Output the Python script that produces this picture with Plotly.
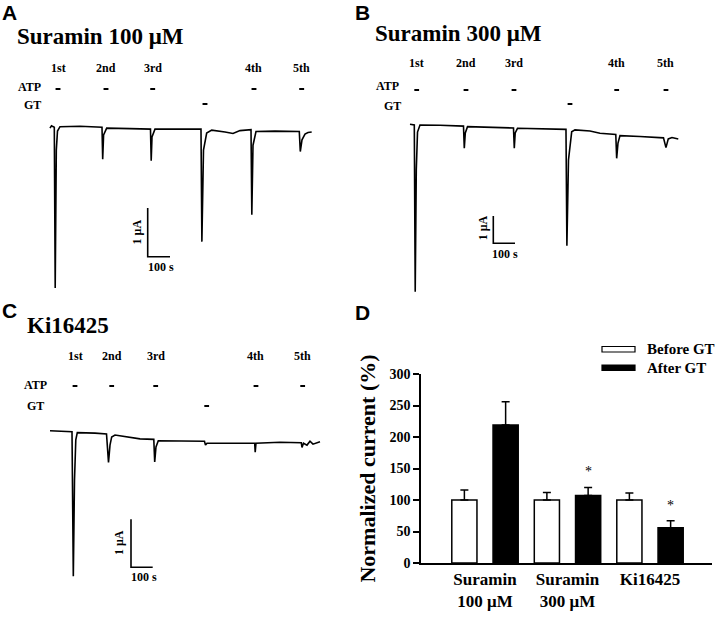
import plotly.graph_objects as go

W, H = 718, 617
SERIF = "Liberation Serif, Times New Roman, serif"
SANS = "Liberation Sans, Arial, sans-serif"

# ---------------- data ----------------
# Panel A (Suramin 100 uM): time (s), current (uA)
A_T = [0, 6.7, 19.3, 23.3, 28.3, 33.6, 44.8, 134.5, 233.2, 236.3, 240.3, 254.2, 358.7,
       450.6, 453.8, 457.4, 470.8, 582.9, 677.1, 681.1, 688.3, 702.6, 725.1, 784.7, 820.6,
       852.0, 901.4, 905.0, 910.3, 923.7, 1008.9, 1117.9, 1122.4, 1130.0, 1143.5, 1157.0, 1173.5]
A_I = [-0.03, 0.02, -0.01, -3.31, -0.48, -0.09, 0.0, 0.01, -0.01, -0.67, -0.17, -0.03, -0.04,
       -0.05, -0.70, -0.21, -0.05, -0.05, -0.05, -2.36, -0.48, -0.13, -0.07, -0.11, -0.14,
       -0.08, -0.06, -1.81, -0.38, -0.10, -0.09, -0.10, -0.51, -0.27, -0.15, -0.12, -0.11]
A_ATP = [35.9, 251.1, 460.5, 914.7, 1128.6]
A_GT = [695.0]

# Panel B (Suramin 300 uM)
B_T = [0, 19.8, 24.0, 29.0, 34.6, 46.1, 138.2, 246.5, 250.2, 254.8, 265.0, 368.6, 476.9,
       480.6, 484.8, 495.4, 599.0, 718.8, 723.0, 730.3, 745.1, 760.3, 829.4, 875.5, 948.3,
       952.4, 958.5, 967.7, 1059.8, 1168.1, 1179.6, 1190.2, 1207.3, 1236.3]
B_I = [0.03, 0.0, -6.11, -1.65, -0.26, 0.0, -0.01, -0.04, -0.85, -0.29, -0.06, -0.09, -0.11,
       -0.85, -0.29, -0.12, -0.14, -0.16, -4.42, -1.28, -0.25, -0.18, -0.22, -0.30, -0.35,
       -1.22, -0.66, -0.39, -0.42, -0.47, -0.83, -0.51, -0.46, -0.51]
B_ATP = [30.9, 258.0, 479.2, 952.5, 1179.6]
B_GT = [737.3]

# Panel C (Ki16425)
C_T = [0, 46.1, 101.4, 107.4, 112.9, 118.9, 125.8, 207.4, 260.4, 269.6, 276.5, 284.3, 299.5,
       414.7, 478.3, 482.5, 488.4, 499.0, 599.0, 711.9, 716.5, 723.5, 829.4, 943.3, 945.6,
       949.2, 1059.8, 1158.0, 1161.2, 1168.1, 1184.3, 1198.1, 1211.9, 1244.2]
C_I = [0.0, -0.01, -0.02, -3.03, -1.03, -0.19, -0.04, -0.05, -0.07, -0.66, -0.30, -0.13, -0.09,
       -0.17, -0.18, -0.65, -0.34, -0.21, -0.21, -0.22, -0.30, -0.26, -0.26, -0.26, -0.45,
       -0.26, -0.24, -0.25, -0.35, -0.26, -0.30, -0.22, -0.28, -0.23]
C_ATP = [115.2, 284.3, 487.1, 949.2, 1164.4]
C_GT = [722.1]

ORDINALS = ["1st", "2nd", "3rd", "4th", "5th"]
SCALE_T = 100   # s
SCALE_I = 1     # uA
DASH_DUR = 22   # s, application marker length

# Panel D
GROUPS = ["Suramin<br>100 \u03bcM", "Suramin<br>300 \u03bcM", "Ki16425"]
BEFORE = [100, 100, 100]
BEFORE_ERR = [16, 12, 11]
AFTER = [219, 107, 56]
AFTER_ERR = [37, 13, 11]
SIGNIF = [False, True, True]

# ---------------- helpers ----------------
def pxx(px):
    return px / W

def pxy(py):
    return 1 - py / H

fig = go.Figure()
layout = dict(template="none", width=W, height=H, autosize=False,
              margin=dict(l=0, r=0, t=0, b=0, pad=0),
              paper_bgcolor="white", plot_bgcolor="white", showlegend=False)
annotations = []
shapes = []

def text(x, y, s, size, font=SERIF, bold=True, xanchor="center", yanchor="middle",
         xref="paper", yref="paper", angle=0):
    annotations.append(dict(x=x, y=y, xref=xref, yref=yref, text=s, showarrow=False,
                            xanchor=xanchor, yanchor=yanchor, textangle=angle,
                            font=dict(family=font, size=size, color="black",
                                      weight="bold" if bold else "normal")))

panels = [
    dict(k="", T=A_T, I=A_I, ATP=A_ATP, GT=A_GT, box=(40, 340, 55, 300), org=(50, 126.7),
         sc=(0.223, 48.7), bar=(147.7, 256.7), lab_ord=68, atp_y=89, gt_y=104,
         atp_lab=(29.5, 87), gt_lab=(32.5, 105), ua_lab=(136.7, 231.7), s_lab=(160.8, 266.7)),
    dict(k="2", T=B_T, I=B_I, ATP=B_ATP, GT=B_GT, box=(400, 700, 55, 300), org=(410, 125.0),
         sc=(0.217, 27.3), bar=(493.3, 243.3), lab_ord=63, atp_y=90, gt_y=104,
         atp_lab=(387.7, 86), gt_lab=(392.5, 106), ua_lab=(483.3, 228), s_lab=(505, 254)),
    dict(k="3", T=C_T, I=C_I, ATP=C_ATP, GT=C_GT, box=(40, 340, 340, 595), org=(50, 430.7),
         sc=(0.217, 48.0), bar=(131, 567.3), lab_ord=356, atp_y=386, gt_y=406,
         atp_lab=(35, 385), gt_lab=(35.5, 406), ua_lab=(118.3, 542.7), s_lab=(143.5, 577.3)),
]

for p in panels:
    k = p["k"]
    xl, xr, yt, yb = p["box"]
    ox, oy = p["org"]
    sx, sy = p["sc"]

    def t_of(px, ox=ox, sx=sx):
        return (px - ox) / sx

    def i_of(py, oy=oy, sy=sy):
        return -(py - oy) / sy

    xa = "x" + k
    ya = "y" + k
    layout["xaxis" + k] = dict(domain=[pxx(xl), pxx(xr)], range=[t_of(xl), t_of(xr)],
                               visible=False, anchor=ya, fixedrange=True, automargin=False)
    layout["yaxis" + k] = dict(domain=[pxy(yb), pxy(yt)], range=[i_of(yb), i_of(yt)],
                               visible=False, anchor=xa, fixedrange=True, automargin=False)
    fig.add_trace(go.Scatter(x=p["T"], y=p["I"], mode="lines",
                             line=dict(color="black", width=1.6),
                             xaxis=xa, yaxis=ya, hoverinfo="skip"))
    ya_atp = i_of(p["atp_y"])
    ya_gt = i_of(p["gt_y"])
    for t in p["ATP"]:
        fig.add_trace(go.Scatter(x=[t - DASH_DUR / 2, t + DASH_DUR / 2], y=[ya_atp, ya_atp],
                                 mode="lines", line=dict(color="black", width=2),
                                 xaxis=xa, yaxis=ya, hoverinfo="skip"))
    for t in p["GT"]:
        fig.add_trace(go.Scatter(x=[t - DASH_DUR / 2, t + DASH_DUR / 2], y=[ya_gt, ya_gt],
                                 mode="lines", line=dict(color="black", width=2),
                                 xaxis=xa, yaxis=ya, hoverinfo="skip"))
    for t, lab in zip(p["ATP"], ORDINALS):
        text(t, pxy(p["lab_ord"]), lab, 12, xref=xa)
    text(pxx(p["atp_lab"][0]), pxy(p["atp_lab"][1]), "ATP", 12)
    text(pxx(p["gt_lab"][0]), pxy(p["gt_lab"][1]), "GT", 12)
    ct, ci = t_of(p["bar"][0]), i_of(p["bar"][1])
    fig.add_trace(go.Scatter(x=[ct, ct, ct + SCALE_T], y=[ci + SCALE_I, ci, ci],
                             mode="lines", line=dict(color="black", width=1.6),
                             xaxis=xa, yaxis=ya, hoverinfo="skip"))
    text(pxx(p["ua_lab"][0]), pxy(p["ua_lab"][1]), f"{SCALE_I} \u03bcA", 12, angle=-90)
    text(pxx(p["s_lab"][0]), pxy(p["s_lab"][1]), f"{SCALE_T} s", 12)

# titles & panel letters
text(pxx(15), pxy(36), "Suramin 100 \u03bcM", 23, xanchor="left")
text(pxx(373), pxy(33), "Suramin 300 \u03bcM", 23, xanchor="left")
text(pxx(25), pxy(325), "Ki16425", 23, xanchor="left")
text(pxx(0), pxy(12.5), "A", 21, font=SANS, xanchor="left")
text(pxx(353), pxy(12.5), "B", 21, font=SANS, xanchor="left")
text(pxx(0), pxy(310), "C", 21, font=SANS, xanchor="left")
text(pxx(353), pxy(312.5), "D", 21, font=SANS, xanchor="left")

# ---------------- panel D ----------------
gpos = list(range(len(GROUPS)))
fig.add_trace(go.Bar(x=gpos, y=BEFORE, name="Before GT", xaxis="x4", yaxis="y4",
                     marker=dict(color="white", line=dict(color="black", width=1.5)),
                     error_y=dict(type="data", array=BEFORE_ERR, arrayminus=[0] * len(BEFORE),
                                  symmetric=False, color="black", thickness=1.5, width=4),
                     hoverinfo="skip"))
fig.add_trace(go.Bar(x=gpos, y=AFTER, name="After GT", xaxis="x4", yaxis="y4",
                     marker=dict(color="black", line=dict(color="black", width=1.5)),
                     error_y=dict(type="data", array=AFTER_ERR, arrayminus=[0] * len(AFTER),
                                  symmetric=False, color="black", thickness=1.5, width=4),
                     hoverinfo="skip"))
for g, v, e, s in zip(gpos, AFTER, AFTER_ERR, SIGNIF):
    if s:
        text(g + 0.25, v + e + 25, "*", 14, bold=False, xref="x4", yref="y4")

unit = 82.5
layout["barmode"] = "group"
layout["bargap"] = 0.0
layout["bargroupgap"] = 0.39
layout["xaxis4"] = dict(domain=[pxx(421), pxx(712)],
                        range=[(421 - 485) / unit, (712 - 485) / unit],
                        tickvals=gpos, ticktext=GROUPS, ticks="", showline=True,
                        linecolor="black", linewidth=1.5, showgrid=False, zeroline=False,
                        tickfont=dict(family=SERIF, size=17, color="black", weight="bold"),
                        anchor="y4", fixedrange=True, automargin=False)
layout["yaxis4"] = dict(domain=[pxy(563), pxy(374)], range=[0, 300],
                        tickvals=[0, 50, 100, 150, 200, 250, 300], ticks="outside",
                        ticklen=6, tickwidth=1.5, tickcolor="black", showline=True,
                        linecolor="black", linewidth=1.5, showgrid=False, zeroline=False,
                        tickfont=dict(family=SERIF, size=14, color="black", weight="bold"),
                        title=dict(text="Normalized current (%)", standoff=8,
                                   font=dict(family=SERIF, size=22, color="black",
                                             weight="bold")),
                        anchor="x4", fixedrange=True, automargin=False)

# legend (drawn manually to mimic wide swatches)
shapes.append(dict(type="rect", xref="paper", yref="paper", x0=pxx(602), x1=pxx(635),
                   y0=pxy(352), y1=pxy(346.5), line=dict(color="black", width=1.2),
                   fillcolor="white"))
shapes.append(dict(type="rect", xref="paper", yref="paper", x0=pxx(602), x1=pxx(635),
                   y0=pxy(370.5), y1=pxy(365), line=dict(color="black", width=1.2),
                   fillcolor="black"))
text(pxx(645), pxy(349), "Before GT", 15, xanchor="left")
text(pxx(645), pxy(368), "After GT", 15, xanchor="left")

layout["annotations"] = annotations
layout["shapes"] = shapes
fig.update_layout(**layout)
fig.write_html("out.html", config={"displayModeBar": False},
               post_script="document.body.style.margin='0';document.body.style.padding='0';")
